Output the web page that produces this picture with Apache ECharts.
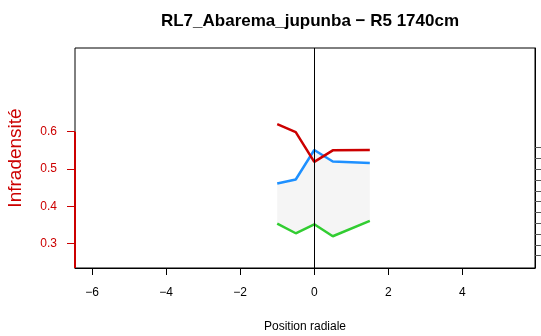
<!DOCTYPE html>
<html>
<head>
<meta charset="utf-8">
<script src="https://cdn.jsdelivr.net/npm/echarts@6/dist/echarts.min.js"></script>
<style>html,body{margin:0;padding:0;background:#fff}#c{width:541px;height:336px}</style>
</head>
<body>
<div id="c"></div>
<script>
const positions = [-1, -0.5, 0, 0.5, 1.5];
const redValues = [0.620, 0.599, 0.519, 0.550, 0.551];
const blueValues = [0.461, 0.472, 0.551, 0.520, 0.516];
const greenValues = [0.354, 0.328, 0.352, 0.320, 0.361];
const xTicks = [-6, -4, -2, 0, 2, 4];
const yTicks = [0.3, 0.4, 0.5, 0.6];
const rightTicks = [0, 1, 2, 3, 4, 5, 6, 7, 8, 9, 10];

const X_MIN = -6.46, X_MAX = 5.96, Y_MIN = 0.235, Y_MAX = 0.824;
const R_MIN = -1.137, R_MAX = 19.196;
const RED = '#cc0000';
const FONT = 'Liberation Sans, Arial, sans-serif';

const pairs = v => positions.map((x, i) => [x, v[i]]);

const chart = echarts.init(document.getElementById('c'), null, {renderer: 'canvas'});
chart.setOption({
  animation: false,
  backgroundColor: '#fff',
  title: {
    text: 'RL7_Abarema_jupunba \u2212 R5 1740cm',
    left: 305, top: 8, textAlign: 'center',
    textStyle: {fontFamily: FONT, fontWeight: 'bold', fontSize: 17, color: '#000'}
  },
  grid: {left: 75, right: 6, top: 48, bottom: 68, show: true, containLabel: false, outerBoundsMode: 'none',
    borderColor: '#000', borderWidth: 1, backgroundColor: 'transparent'},
  xAxis: {
    type: 'value', min: X_MIN, max: X_MAX,
    name: 'Position radiale', nameLocation: 'middle', nameGap: 53,
    nameTextStyle: {fontFamily: FONT, fontSize: 12, color: '#000', verticalAlign: 'top'},
    axisLine: {show: true, onZero: false, lineStyle: {color: '#000', width: 1}},
    axisTick: {show: true, length: 7, customValues: xTicks, lineStyle: {color: '#000'}},
    axisLabel: {customValues: xTicks, margin: 19, fontFamily: FONT, fontSize: 12, color: '#000',
      formatter: v => (v < 0 ? '\u2212' + Math.abs(v) : String(v))},
    splitLine: {show: false}
  },
  yAxis: [{
    type: 'value', min: Y_MIN, max: Y_MAX, position: 'left',
    name: 'Infradensit\u00e9', nameLocation: 'middle', nameGap: 50, nameRotate: 90,
    nameTextStyle: {fontFamily: FONT, fontSize: 19, color: RED},
    axisLine: {show: false, onZero: false},
    axisTick: {show: true, length: 8, customValues: yTicks, lineStyle: {color: RED}},
    axisLabel: {customValues: yTicks, margin: 18, fontFamily: FONT, fontSize: 12, color: RED,
      formatter: v => v.toFixed(1)},
    splitLine: {show: false}
  }, {
    type: 'value', min: R_MIN, max: R_MAX, position: 'right',
    axisLine: {show: true, onZero: false, lineStyle: {color: '#000', width: 1}},
    axisTick: {show: true, length: 6, customValues: rightTicks, lineStyle: {color: '#555'}},
    axisLabel: {show: false},
    splitLine: {show: false}
  }],
  series: [
    {
      type: 'custom', yAxisIndex: 0, z: 1,
      renderItem: function (params, api) {
        if (params.dataIndex !== 0) return null;
        const pts = [];
        positions.forEach((x, i) => pts.push(api.coord([x, blueValues[i]])));
        for (let i = positions.length - 1; i >= 0; i--) pts.push(api.coord([positions[i], greenValues[i]]));
        return {type: 'polygon', shape: {points: pts}, style: {fill: '#f5f5f5', stroke: null}};
      },
      data: [0], silent: true
    },
    {type: 'line', data: pairs(blueValues), symbol: 'none', z: 3, lineStyle: {color: '#1e90ff', width: 2.5}},
    {type: 'line', data: pairs(greenValues), symbol: 'none', z: 3, lineStyle: {color: '#32cd32', width: 2.5}},
    {type: 'line', data: pairs(redValues), symbol: 'none', z: 4, lineStyle: {color: RED, width: 2.5}},
    {
      type: 'line', data: [], symbol: 'none', z: 5, clip: false,
      markLine: {
        silent: true, symbol: 'none', animation: false, label: {show: false},
        data: [
          [{coord: [0, Y_MIN], lineStyle: {color: '#000', width: 1, type: 'solid'}}, {coord: [0, Y_MAX]}],
          [{coord: [X_MIN, Y_MIN], lineStyle: {color: RED, width: 2, type: 'solid'}}, {coord: [X_MIN, 0.6]}]
        ]
      }
    }
  ]
});
</script>
</body>
</html>
